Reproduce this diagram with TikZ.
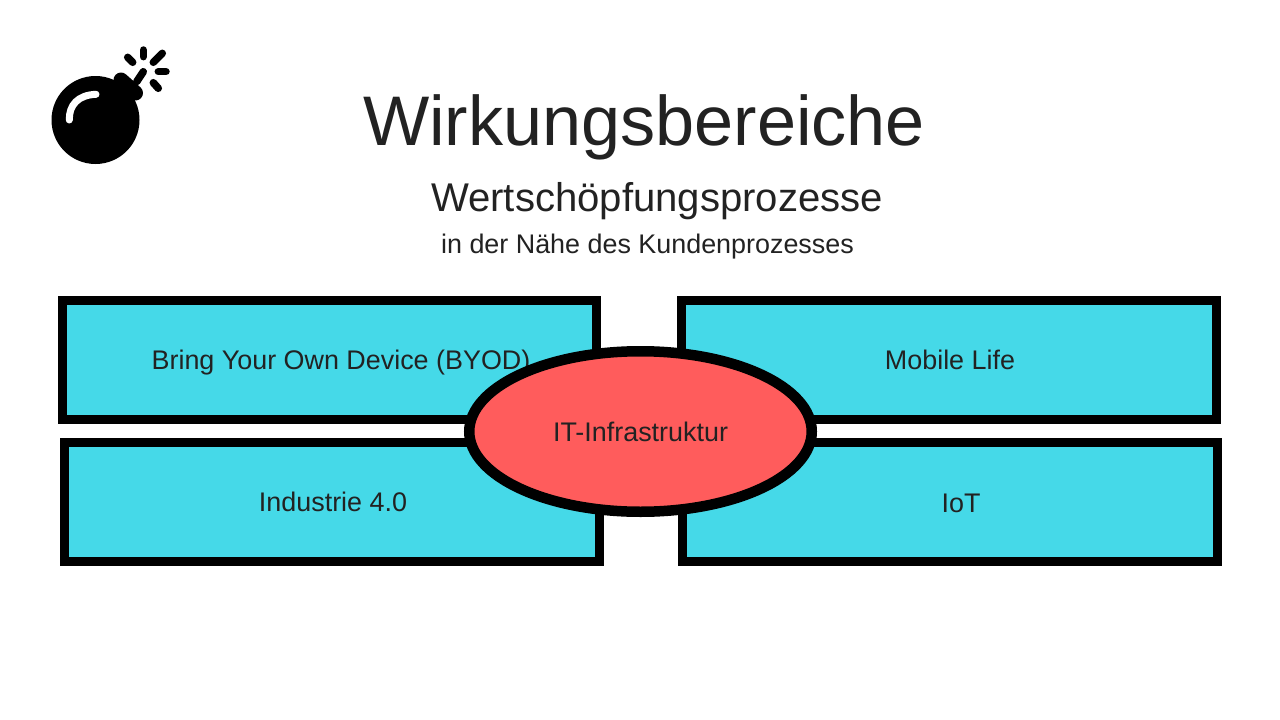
\documentclass[tikz,border=0pt]{standalone}
\usepackage{xcolor}
\usepackage{fontspec}
\usetikzlibrary{shapes.geometric}
\setmainfont{Liberation Sans}
\definecolor{textColor}{HTML}{222222}
\definecolor{fieldColor}{HTML}{45D9E8}
\definecolor{coreColor}{HTML}{FF5C5C}
\colorlet{strokeColor}{black}
\tikzset{
  fieldbox/.style={draw=strokeColor, fill=fieldColor, line width=9pt, rectangle, inner sep=0pt, minimum height=119pt},
  fieldlabel/.style={anchor=base, inner sep=0pt, text=textColor, font=\fontsize{26.9}{30}\selectfont},
  spark/.style={color=strokeColor, line width=7.5pt, line cap=round},
}

\begin{document}
\begin{tikzpicture}[x=1pt, y=-1pt]
    \useasboundingbox (0, 0) rectangle (1280, 720);
    \fill[white] (0, 0) rectangle (1280, 720);

    % bomb
    \begin{scope}
      \fill[color=strokeColor] (95.5, 120) circle[radius=44pt];
      \draw[color=strokeColor, line width=15pt, line cap=round] (121, 80) -- (135.5, 93);
      \draw[spark] (136.7, 81.7) -- (143.3, 71.7);
      \foreach \xa/\ya/\xb/\yb in {127.7/57.3/132.7/62.3, 143.3/50/143.3/56.7, 162.3/53.3/153.3/62.3, 158.3/71.7/166/71.7, 153.3/82.7/158.3/88.3} {
        \draw[spark] (\xa, \ya) -- (\xb, \yb);
      }
      \draw[color=white, line width=7pt, line cap=round] (96, 94.3) .. controls (78, 95) and (69, 105) .. (69.3, 120);
    \end{scope}

    \node[anchor=base, inner sep=0pt, text=textColor] (title) at (644, 145) {\fontsize{70.2}{84}\selectfont Wirkungsbereiche};
    \node[anchor=base, inner sep=0pt, text=textColor] (subtitle) at (657, 211) {\fontsize{40.1}{48}\selectfont Wertschöpfungsprozesse};
    \node[anchor=base, inner sep=0pt, text=textColor] (subsubtitle) at (647.5, 253) {\fontsize{26.9}{30}\selectfont in der Nähe des Kundenprozesses};

    \node[fieldbox, minimum width=534pt] (byodBox) at (329.5, 360) {};
    \node[fieldbox, minimum width=535pt] (mobileBox) at (949, 360) {};
    \node[fieldbox, minimum width=535pt] (industryBox) at (332, 502) {};
    \node[fieldbox, minimum width=535pt] (iotBox) at (950, 502) {};

    \node[fieldlabel] (byod) at (341, 369) {Bring Your Own Device (BYOD)};
    \node[fieldlabel] (mobile) at (950, 369) {Mobile Life};
    \node[fieldlabel] (industry) at (333, 511) {Industrie 4.0};
    \node[fieldlabel] (iot) at (961, 512) {IoT};

    \node[
      draw=strokeColor,
      fill=coreColor,
      ellipse,
      line width=10.5pt,
      inner sep=0pt,
      minimum width=342.5pt,
      minimum height=160.5pt,
    ] (core) at (640.5, 431.5) {};
    \node[fieldlabel] (coreLabel) at (640.5, 441) {IT-Infrastruktur};
  \end{tikzpicture}
\end{document}
